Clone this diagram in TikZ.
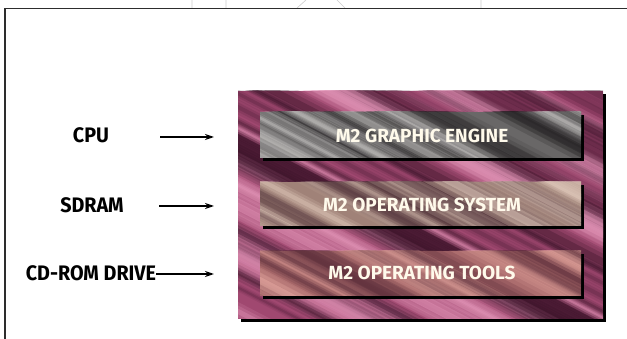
\documentclass[tikz,border=0pt]{standalone}
\usepackage{fontspec}
\setmainfont{Fira Sans}
\newfontfamily\labfont{Fira Sans}[FakeStretch=0.94]
\usetikzlibrary{arrows.meta}
\definecolor{panelbase}{RGB}{160,72,112}
\definecolor{panellight}{RGB}{228,150,185}
\definecolor{paneldark}{RGB}{60,20,42}
\definecolor{baroneb}{RGB}{105,103,103}
\definecolor{baronel}{RGB}{205,203,201}
\definecolor{baroned}{RGB}{35,32,34}
\definecolor{bartwob}{RGB}{160,130,120}
\definecolor{bartwol}{RGB}{225,202,188}
\definecolor{bartwod}{RGB}{80,50,58}
\definecolor{barthreeb}{RGB}{165,102,104}
\definecolor{barthreel}{RGB}{230,168,160}
\definecolor{barthreed}{RGB}{90,45,58}
\definecolor{bartext}{RGB}{255,250,235}
\definecolor{framecol}{RGB}{45,45,45}
\definecolor{ghost}{RGB}{205,205,205}
\begin{document}
\begin{tikzpicture}[x=1pt,y=-1pt,
  labelstyle/.style={font=\labfont\bfseries\fontsize{21}{21}\selectfont, text=black, inner sep=0pt},
  barlabel/.style={font=\bfseries\fontsize{19}{19}\selectfont, text=bartext, inner sep=0pt},
  arrowstyle/.style={line width=1.3pt, -{Stealth[length=9pt,width=6pt]}},
  shadowbox/.style={fill=black}]
\useasboundingbox (0,0) rectangle (627,339);
\fill[white] (0,0) rectangle (627,339);
% faint page marks
\draw[ghost, line width=0.6pt] (192,0) -- (192,8) (226,0) -- (226,8) (481,0) -- (481,8)
  (297,8) -- (306,0) (337,0) -- (345,8);
% frame
\draw[framecol, line width=1.6pt] (5,339) -- (5,8.5) -- (627,8.5);
% panel
\fill[shadowbox] (241,94) rectangle (606,322);
\pgfmathsetseed{11}
\begin{scope}
  \clip (238,91) rectangle (603,319);
  \fill[panelbase] (238,91) rectangle (603,319);
  \foreach \k in {1,...,55}{
    \pgfmathsetmacro\sy{91-190+rnd*(228+190)}
    \pgfmathsetmacro\lw{3+9*rnd}
    \pgfmathsetmacro\op{0.25+0.45*rnd}
    \pgfmathtruncatemacro\pick{2.2*rnd}
    \ifnum\pick=1 \def\cc{panellight}\else\def\cc{paneldark}\fi
    \draw[line width=2.4*\lw pt, color=\cc, opacity=0.3*\op, line cap=round] (228,\sy) -- ++(385,200);
    \draw[line width=1.5*\lw pt, color=\cc, opacity=0.4*\op, line cap=round] (228,\sy) -- ++(385,200);
    \draw[line width=0.7*\lw pt, color=\cc, opacity=0.6*\op, line cap=round] (228,\sy) -- ++(385,200);
  }
\end{scope}
% bars
\fill[shadowbox] (263,115) rectangle (584,161);
\fill[shadowbox] (263,185) rectangle (584,229);
\fill[shadowbox] (263,254) rectangle (584,299);
\foreach \top/\bot/\b/\l/\d/\sd in {112/158/baroneb/baronel/baroned/3,182/226/bartwob/bartwol/bartwod/5,251/296/barthreeb/barthreel/barthreed/9}{
  \pgfmathsetseed{\sd}
  \begin{scope}
    \clip (260,\top) rectangle (581,\bot);
    \fill[\b] (260,\top) rectangle (581,\bot);
    \foreach \k in {1,...,30}{
      \pgfmathsetmacro\sy{\top-175+rnd*(\bot-\top+175)}
      \pgfmathsetmacro\lw{3+8*rnd}
      \pgfmathsetmacro\op{0.25+0.5*rnd}
      \pgfmathtruncatemacro\pick{2*rnd}
      \ifnum\pick=1 \def\cc{\l}\else\def\cc{\d}\fi
      \draw[line width=2.4*\lw pt, color=\cc, opacity=0.3*\op, line cap=round] (250,\sy) -- ++(345,180);
      \draw[line width=1.5*\lw pt, color=\cc, opacity=0.4*\op, line cap=round] (250,\sy) -- ++(345,180);
      \draw[line width=0.7*\lw pt, color=\cc, opacity=0.6*\op, line cap=round] (250,\sy) -- ++(345,180);
    }
  \end{scope}
}
\node[barlabel] (b1) at (422,136) {M2 GRAPHIC ENGINE};
\node[barlabel] (b2) at (422,205) {M2 OPERATING SYSTEM};
\node[barlabel] (b3) at (422,273) {M2 OPERATING TOOLS};
% left labels
\node[labelstyle] (cpu) at (91,135) {CPU};
\node[labelstyle] (sdram) at (92,205) {SDRAM};
\node[labelstyle] (cdrom) at (91,273) {CD-ROM DRIVE};
\coordinate (a1s) at (160,137);
\coordinate (a1e) at (214,137);
\coordinate (a2s) at (159,206);
\coordinate (a2e) at (214,206);
\coordinate (a3e) at (214,274);
\draw[arrowstyle] (a1s) -- (a1e);
\draw[arrowstyle] (a2s) -- (a2e);
\draw[arrowstyle] (cdrom.east |- a3e) -- (a3e);
\end{tikzpicture}
\end{document}
